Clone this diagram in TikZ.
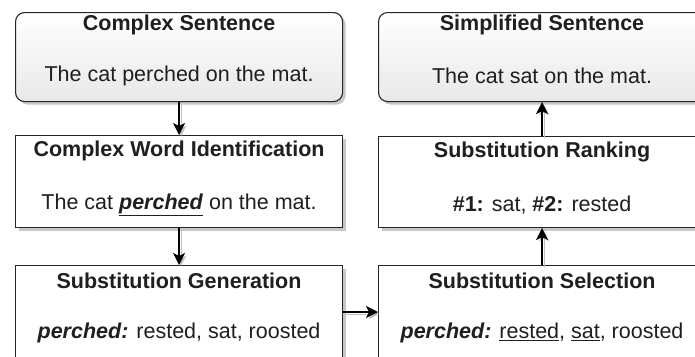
\documentclass[tikz,border=0pt]{standalone}
\usepackage{fontspec}
\setmainfont{Liberation Sans}
\usetikzlibrary{arrows.meta,shadows}
\begin{document}
\begin{tikzpicture}[x=1pt,y=-1pt,
  stage/.style={draw=black!85, line width=1.1pt, fill=white, minimum width=327pt,
    anchor=north west, inner sep=0pt,
    drop shadow={shadow xshift=3pt, shadow yshift=-3pt, fill=black!22, opacity=1}},
  endstage/.style={stage, rounded corners=9pt, top color=white, bottom color=black!9},
  title/.style={font=\fontsize{21.5}{25}\selectfont\bfseries, text=black!88, inner sep=0pt},
  body/.style={font=\fontsize{21.5}{25}\selectfont, text=black!88, inner sep=0pt},
  link/.style={-{Stealth[length=12pt,width=12pt,inset=3pt]}, line width=1.3pt, black,
    preaction={draw=black!25, transform canvas={xshift=2pt,yshift=-2pt}}}]
\useasboundingbox (0,0) rectangle (695,356);

% left column
\node[endstage, minimum height=89pt] (cs) at (15,12) {};
\node[stage, minimum height=92pt] (cwi) at (15,135) {};
\node[stage, minimum height=100pt] (sg) at (15,265) {};

% right column
\node[endstage, minimum height=89pt] (ss) at (378,12) {};
\node[stage, minimum height=91pt] (sr) at (378,136) {};
\node[stage, minimum height=100pt] (sel) at (378,265) {};

% titles and examples
\node[title] (cst) at ([yshift=-13pt]cs.north) {Complex Sentence};
\node[body]  (csb) at ([yshift=26pt]cs.south) {The cat perched on the mat.};

\node[title] (cwit) at ([yshift=-16pt]cwi.north) {Complex Word Identification};
\node[body]  (cwib) at ([yshift=23pt]cwi.south) {The cat \underline{\textbf{\textit{perched}}} on the mat.};

\node[title] (sgt) at ([yshift=-16pt]sg.north) {Substitution Generation};
\node[body]  (sgb) at ([yshift=-68pt]sg.north) {\textbf{\textit{perched:}} rested, sat, roosted};

\node[title] (sst) at ([yshift=-13pt]ss.north) {Simplified Sentence};
\node[body]  (ssb) at ([yshift=26pt]ss.south) {The cat sat on the mat.};

\node[title] (srt) at ([yshift=-16pt]sr.north) {Substitution Ranking};
\node[body]  (srb) at ([yshift=23pt]sr.south) {\textbf{\#1:} sat, \textbf{\#2:} rested};

\node[title] (selt) at ([yshift=-16pt]sel.north) {Substitution Selection};
\node[body]  (selb) at ([yshift=-68pt]sel.north) {\textbf{\textit{perched:}} \underline{rested}, \underline{sat}, roosted};

% pipeline connectors
\draw[link] (cs.south) -- (cwi.north);
\draw[link] (cwi.south) -- (sg.north);
\draw[link] (sg.east |- 0,312) -- (sel.west |- 0,312);
\draw[link] (sel.north) -- (sr.south);
\draw[link] (sr.north) -- (ss.south);
\end{tikzpicture}
\end{document}
